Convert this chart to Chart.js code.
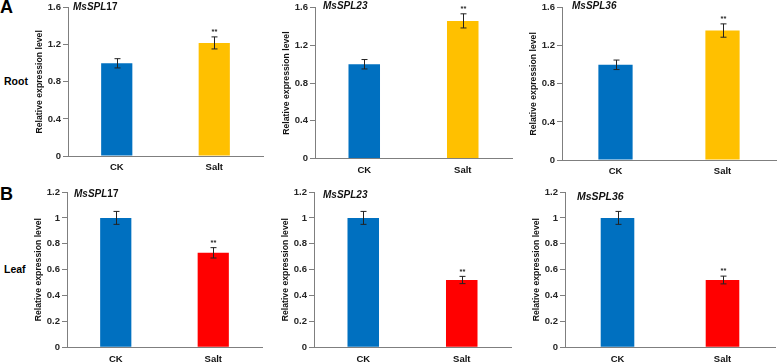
<!DOCTYPE html>
<html>
<head>
<meta charset="utf-8">
<script src="https://cdn.jsdelivr.net/npm/chart.js@4.4.1/dist/chart.umd.min.js"></script>
<style>
  html,body{margin:0;padding:0;background:#fff;}
  body{width:777px;height:363px;position:relative;overflow:hidden;font-family:"Liberation Sans",Arial,sans-serif;}
  .box{position:absolute;}
  .lbl{position:absolute;font-weight:bold;color:#000;}
</style>
</head>
<body>
<div class="lbl" style="left:0px;top:-3px;font-size:18px">A</div>
<div class="lbl" style="left:0px;top:184px;font-size:18px">B</div>
<div class="lbl" style="left:4px;top:75px;font-size:10.5px">Root</div>
<div class="lbl" style="left:4px;top:263px;font-size:10.5px">Leaf</div>

<div class="box" style="left:30px;top:0px;width:235px;height:180px"><canvas id="p1"></canvas></div>
<div class="box" style="left:277px;top:0px;width:237px;height:180px"><canvas id="p2"></canvas></div>
<div class="box" style="left:524px;top:0px;width:253px;height:180px"><canvas id="p3"></canvas></div>
<div class="box" style="left:29px;top:180px;width:235px;height:183px"><canvas id="p4"></canvas></div>
<div class="box" style="left:276px;top:180px;width:237px;height:183px"><canvas id="p5"></canvas></div>
<div class="box" style="left:527px;top:180px;width:250px;height:183px"><canvas id="p6"></canvas></div>

<script>
// ── DATA ──
const groups = ['CK', 'Salt'];
const yTicksRoot = ['0', '0.4', '0.8', '1.2', '1.6'];
const yTicksLeaf = ['0', '0.2', '0.4', '0.6', '0.8', '1', '1.2'];

const root17 = [1.0, 1.22],  root17Err = [0.05, 0.065];
const root23 = [1.0, 1.46],  root23Err = [0.05, 0.075];
const root36 = [1.0, 1.36],  root36Err = [0.05, 0.07];
const leaf17 = [1.0, 0.73],  leaf17Err = [0.05, 0.04];
const leaf23 = [1.0, 0.52],  leaf23Err = [0.05, 0.028];
const leaf36 = [1.0, 0.52],  leaf36Err = [0.05, 0.03];
const signif = ['', '**'];

const BLUE = '#0070C0', GOLD = '#FFC000', RED = '#FF0000';
const AXIS = '#7f7f7f', TXT = '#262626';
const FONT = '"Liberation Sans", Arial, sans-serif';

// error bars + significance stars
const errPlugin = {
  id: 'errbars',
  afterDatasetsDraw(chart, args, opts) {
    const ctx = chart.ctx, ys = chart.scales.y;
    const meta = chart.getDatasetMeta(0);
    const vals = chart.data.datasets[0].data;
    ctx.save();
    ctx.strokeStyle = '#222'; ctx.lineWidth = 1;
    meta.data.forEach((bar, i) => {
      const e = opts.err[i], v = vals[i];
      const x = Math.round(bar.x) + 0.5;
      const yt = ys.getPixelForValue(v + e), yb = ys.getPixelForValue(v - e);
      ctx.beginPath();
      ctx.moveTo(x, yt); ctx.lineTo(x, yb);
      ctx.moveTo(x - 3, yt); ctx.lineTo(x + 3, yt);
      ctx.moveTo(x - 3, yb); ctx.lineTo(x + 3, yb);
      ctx.stroke();
      if (signif[i]) {
        ctx.fillStyle = TXT;
        ctx.font = 'bold 7.5px ' + FONT;
        ctx.textAlign = 'center'; ctx.textBaseline = 'bottom';
        ctx.fillText(signif[i], x, yt - 1);
      }
    });
    ctx.restore();
  }
};

// gene title, italic part + optional upright part
const titlePlugin = {
  id: 'genetitle',
  afterDraw(chart, args, opts) {
    const ctx = chart.ctx, a = chart.chartArea;
    let x = a.left + opts.dx;
    const y = opts.y;
    ctx.save();
    ctx.fillStyle = '#111'; ctx.textBaseline = 'alphabetic';
    opts.parts.forEach(p => {
      ctx.font = (p[1] ? 'italic ' : '') + 'bold ' + opts.size + 'px ' + FONT;
      ctx.fillText(p[0], x, y);
      x += ctx.measureText(p[0]).width;
    });
    ctx.restore();
  }
};

function panel(id, vals, errs, color, max, step, tickLbls, pad, axW, xH, title) {
  new Chart(document.getElementById(id), {
    type: 'bar',
    data: { labels: groups, datasets: [{ data: vals, backgroundColor: [BLUE, color], borderWidth: 0,
      barPercentage: 0.32, categoryPercentage: 1 }] },
    options: {
      responsive: true, maintainAspectRatio: false, animation: false,
      layout: { padding: pad },
      plugins: { legend: { display: false }, tooltip: { enabled: false },
        errbars: { err: errs }, genetitle: title },
      scales: {
        x: {
          grid: { display: true, drawOnChartArea: false, drawTicks: false },
          border: { color: AXIS, width: 1 },
          ticks: { color: '#111', padding: 6, font: { family: FONT, size: 9.5, weight: 'bold' } },
          afterFit(s) { s.height = xH; }
        },
        y: {
          min: 0, max: max,
          grid: { drawOnChartArea: false, drawTicks: true, tickLength: 5, color: AXIS },
          border: { color: AXIS, width: 1 },
          ticks: { stepSize: step, padding: 2, color: TXT, font: { family: FONT, size: 9.5, weight: 'bold' },
            callback: (v, i) => tickLbls[i] },
          title: { display: true, text: 'Relative expression level', color: '#111',
            padding: { top: 4, bottom: 0 }, font: { family: FONT, size: 8.7, weight: 'bold' } },
          afterFit(s) { s.width = axW; }
        }
      }
    },
    plugins: [errPlugin, titlePlugin]
  });
}

panel('p1', root17, root17Err, GOLD, 1.6, 0.4, yTicksRoot, { top: 6.5, right: 2, left: 0, bottom: 0 }, 38, 24,
  { dx: 5, y: 10, size: 10, parts: [['MsSPL', true], ['17', false]] });
panel('p2', root23, root23Err, GOLD, 1.6, 0.4, yTicksRoot, { top: 5, right: 2, left: 0, bottom: 0 }, 38, 21.5,
  { dx: 8, y: 9, size: 10, parts: [['MsSPL23', true]] });
panel('p3', root36, root36Err, GOLD, 1.6, 0.4, yTicksRoot, { top: 4, right: 1, left: 0, bottom: 0 }, 38, 20,
  { dx: 10, y: 9, size: 10, parts: [['MsSPL36', true]] });
panel('p4', leaf17, leaf17Err, RED, 1.2, 0.2, yTicksLeaf, { top: 12, right: 2, left: 0, bottom: 0 }, 38, 15.7,
  { dx: 7, y: 17, size: 10, parts: [['MsSPL', true], ['17', false]] });
panel('p5', leaf23, leaf23Err, RED, 1.2, 0.2, yTicksLeaf, { top: 12, right: 2, left: 0, bottom: 0 }, 38, 15.7,
  { dx: 9, y: 18, size: 10, parts: [['MsSPL23', true]] });
panel('p6', leaf36, leaf36Err, RED, 1.2, 0.2, yTicksLeaf, { top: 12, right: 2, left: 0, bottom: 0 }, 38, 15.7,
  { dx: 12, y: 20, size: 10.5, parts: [['MsSPL36', true]] });
</script>
</body>
</html>
